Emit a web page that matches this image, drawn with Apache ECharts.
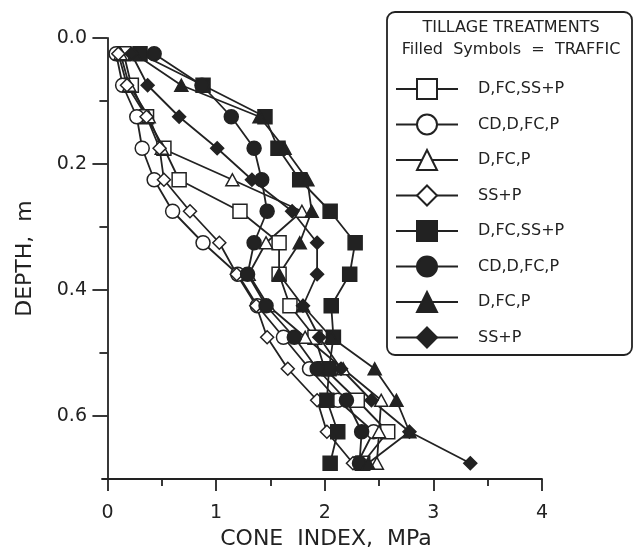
<!DOCTYPE html>
<html>
<head>
<meta charset="utf-8">
<script src="https://cdn.jsdelivr.net/npm/echarts@6/dist/echarts.min.js"></script>
<style>
  html, body { margin: 0; background: #fff; }
  #chart { width: 634px; height: 548px; }
</style>
</head>
<body>
<div id="chart"></div>
<script>
// depth of each reading, m
var depths = [0.025, 0.075, 0.125, 0.175, 0.225, 0.275, 0.325, 0.375, 0.425, 0.475, 0.525, 0.575, 0.625, 0.675];

// cone index, MPa (open = no traffic, filled = traffic)
var openSquare   = [0.15, 0.22, 0.36, 0.52, 0.66, 1.22, 1.58, 1.58, 1.68, 1.91, 2.00, 2.30, 2.58, 2.35];
var openCircle   = [0.08, 0.14, 0.27, 0.32, 0.43, 0.60, 0.88, 1.20, 1.38, 1.62, 1.86, 2.12, 2.45, 2.30];
var openTriangle = [0.12, 0.20, 0.38, 0.50, 1.15, 1.79, 1.46, 1.30, 1.48, 1.82, 2.17, 2.52, 2.50, 2.48];
var openDiamond  = [0.10, 0.18, 0.36, 0.48, 0.52, 0.76, 1.03, 1.19, 1.37, 1.47, 1.66, 1.93, 2.02, 2.26];
var fillSquare   = [0.30, 0.88, 1.45, 1.57, 1.77, 2.05, 2.28, 2.23, 2.06, 2.08, 2.04, 2.02, 2.12, 2.05];
var fillCircle   = [0.43, 0.87, 1.14, 1.35, 1.42, 1.47, 1.35, 1.29, 1.46, 1.72, 1.93, 2.20, 2.34, 2.32];
var fillTriangle = [0.25, 0.68, 1.40, 1.63, 1.84, 1.88, 1.77, 1.58, 1.80, 2.06, 2.46, 2.66, 2.78, 2.40];
var fillDiamond  = [0.22, 0.37, 0.66, 1.01, 1.33, 1.70, 1.93, 1.93, 1.80, 1.95, 2.15, 2.43, 2.78, 3.34];

var treatments = ['D,FC,SS+P', 'CD,D,FC,P', 'D,FC,P', 'SS+P'];
var xMajor = [0, 1, 2, 3, 4];
var xMinor = [0.5, 1.5, 2.5, 3.5];
var yMajor = [0, 0.2, 0.4, 0.6];
var yMinor = [0.1, 0.3, 0.5];

var ink = '#222';
var font = 'DejaVu Sans';
var TRAFFIC = ' (traffic)';

function pairs(vals) {
    return vals.map(function (v, i) { return [v, depths[i]]; });
}

function line(name, vals, symbol, size, filled) {
    return {
        type: 'line',
        name: filled ? name + TRAFFIC : name,
        data: pairs(vals),
        symbol: symbol,
        symbolSize: size,
        showAllSymbol: true,
        lineStyle: { color: ink, width: 1.8 },
        itemStyle: { color: filled ? ink : '#fff', borderColor: ink, borderWidth: 1.5 },
        emphasis: { disabled: true },
        animation: false
    };
}

var series = [
    line(treatments[0], openSquare, 'rect', 14, false),
    line(treatments[1], openCircle, 'circle', 14, false),
    line(treatments[2], openTriangle, 'triangle', [13, 12], false),
    line(treatments[3], openDiamond, 'diamond', 13, false),
    line(treatments[0], fillSquare, 'rect', 14, true),
    line(treatments[1], fillCircle, 'circle', 14, true),
    line(treatments[2], fillTriangle, 'triangle', [13, 12], true),
    line(treatments[3], fillDiamond, 'diamond', 13, true)
];

var tickLine = { color: ink, width: 1.8 };

var chart = echarts.init(document.getElementById('chart'));
chart.setOption({
    backgroundColor: '#fff',
    animation: false,
    grid: { left: 102, right: 92, top: 38, bottom: 69, containLabel: false, outerBoundsMode: 'none' },
    xAxis: [{
        type: 'value', min: -0.05, max: 4, position: 'bottom',
        axisLine: { onZero: false, lineStyle: tickLine },
        axisTick: { customValues: xMajor, length: 12, lineStyle: tickLine },
        axisLabel: { customValues: xMajor, margin: 25, fontSize: 19, fontFamily: font, color: ink },
        splitLine: { show: false },
        name: 'CONE  INDEX,  MPa', nameLocation: 'middle', nameGap: 47,
        nameTextStyle: { fontSize: 22, fontFamily: font, color: ink, padding: [0, 0, 0, 8] }
    }, {
        type: 'value', min: -0.05, max: 4, position: 'bottom',
        axisLine: { show: false, onZero: false },
        axisTick: { customValues: xMinor, length: 7, lineStyle: tickLine },
        axisLabel: { show: false },
        splitLine: { show: false }
    }],
    yAxis: [{
        type: 'value', min: 0, max: 0.7, inverse: true, position: 'left',
        axisLine: { onZero: true, lineStyle: tickLine },
        axisTick: { customValues: yMajor, length: 15, lineStyle: tickLine },
        axisLabel: {
            customValues: yMajor, margin: 15, fontSize: 19, fontFamily: font, color: ink,
            formatter: function (v) { return v.toFixed(1); }
        },
        splitLine: { show: false },
        name: 'DEPTH,  m', nameLocation: 'middle', nameGap: 66,
        nameTextStyle: { fontSize: 22, fontFamily: font, color: ink }
    }, {
        type: 'value', min: 0, max: 0.7, inverse: true, position: 'left',
        axisLine: { show: false, onZero: true },
        axisTick: { customValues: yMinor, length: 8, lineStyle: tickLine },
        axisLabel: { show: false },
        splitLine: { show: false }
    }],
    legend: {
        orient: 'vertical', left: 395, top: 78, padding: 0,
        itemWidth: 62, itemHeight: 25, itemGap: 13.5,
        selectedMode: false,
        data: series.map(function (s) { return s.name; }),
        formatter: function (n) { return n.replace(TRAFFIC, ''); },
        textStyle: { fontSize: 16, fontFamily: font, color: ink, padding: [0, 0, 0, 15] }
    },
    graphic: [
        { type: 'rect', shape: { x: 387, y: 12, width: 245, height: 343, r: 8 },
          style: { fill: 'none', stroke: ink, lineWidth: 1.8 } },
        { type: 'text', x: 511, y: 28,
          style: { text: 'TILLAGE TREATMENTS', fontSize: 16, fontFamily: font, fill: ink,
                   align: 'center', verticalAlign: 'middle', textAlign: 'center', textVerticalAlign: 'middle' } },
        { type: 'text', x: 511, y: 50,
          style: { text: 'Filled  Symbols  =  TRAFFIC', fontSize: 16, fontFamily: font, fill: ink,
                   align: 'center', verticalAlign: 'middle', textAlign: 'center', textVerticalAlign: 'middle' } }
    ],
    series: series
});
</script>
</body>
</html>
